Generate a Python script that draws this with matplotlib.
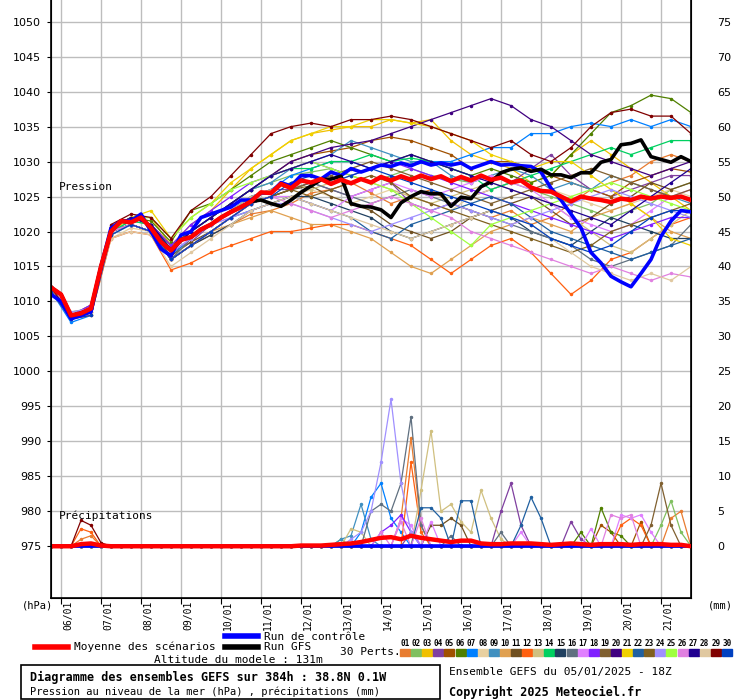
import matplotlib
matplotlib.use("Agg")
import matplotlib.pyplot as plt
from matplotlib.patches import Rectangle
from matplotlib.lines import Line2D
import matplotlib.transforms as mtransforms

# ---------------- data ----------------
day_labels = ["06/01","07/01","08/01","09/01","10/01","11/01","12/01","13/01",
              "14/01","15/01","16/01","17/01","18/01","19/01","20/01","21/01"]
pressure_ticks = [975,980,985,990,995,1000,1005,1010,1015,1020,1025,1030,1035,1040,1045,1050]
precip_ticks = [0,5,10,15,20,25,30,35,40,45,50,55,60,65,70,75]

# 6-hourly series (65 points, 05/01 18Z -> +384h)
mean_p = [1012,1011,1008,1008.3,1009,1015,1020,1021.5,1021.3,1022,1020.5,1018.5,1017.3,
          1018.8,1019.2,1020.3,1021,1022,1022.8,1023.5,1024.3,1025.6,1025.5,1026.8,1026.2,1027.3,
          1027,1027.5,1026.8,1027.4,1026.9,1027.5,1027,1027.8,1027.3,1027.9,1027.4,1028,1027.5,
          1027.9,1027.2,1027.8,1027.3,1028,1027.4,1027.7,1027,1027.3,1026.3,1025.8,1025.7,1025,
          1024.3,1025,1024.7,1024.5,1024.2,1024.7,1024.5,1025,1024.7,1025,1024.8,1025,1024.5]
control_p = [1011,1010,1007.5,1008,1008.5,1015,1020.5,1021.5,1021.5,1022.5,1020,1017.5,1016.5,
             1019.5,1020,1022,1022.5,1023,1023.5,1024.5,1024.5,1025.5,1025.5,1027,1026.5,1028,
             1028,1027.5,1028.5,1028,1029,1028.5,1029,1029.5,1029.3,1029.8,1029.4,1030,1029.5,
             1029.8,1029.5,1029.8,1029,1029.5,1030,1029.5,1029.6,1029.4,1029.3,1028.5,1026.2,1024.5,
             1022.5,1020.5,1017,1015.5,1013.6,1012.8,1012.1,1014,1016,1019.3,1021.5,1023,1022.8]
gfs_p = [1012,1011,1008,1008.3,1009,1015,1020,1021.5,1021.3,1022,1020.5,1018.5,1017.3,
         1018.8,1019.2,1020.3,1021,1022,1022.8,1023.5,1024.3,1024.5,1024,1023.6,1024.5,1025.6,
         1026.5,1027.4,1027.5,1027.9,1024,1023.6,1023.5,1023.1,1022,1024.1,1025,1025.7,1025.4,
         1025.4,1023.6,1024.9,1024.7,1026.4,1027.1,1028.4,1028.9,1029.1,1028.6,1028.9,1028.1,1028.1,
         1027.7,1028.4,1028.4,1029.9,1030.3,1032.4,1032.6,1033.1,1030.7,1030.3,1029.9,1030.7,1030]
mean_rr = [0,0,0,0.3,0.4,0.1,0,0,0,0,0,0,0,0,0,0,0,0,0,0,0,0,0,0,0,0.1,
           0.1,0.1,0.2,0.3,0.4,0.6,0.9,1.2,1.3,1.0,1.5,1.2,1.0,0.8,0.6,0.8,0.8,0.4,0.3,0.3,
           0.4,0.4,0.4,0.3,0.2,0.3,0.4,0.3,0.2,0.3,0.3,0.3,0.2,0.3,0.3,0.3,0.2,0.2,0]

# 12-hourly perturbation pressures (33 points)
m01 = [1012,1008,1008.5,1019.5,1021,1020,1016,1018,1019.5,1021,1022.5,1023,1024,1025.5,1026,1027,1025.5,1024,1025,1026,1024,1023,1022,1023,1021,1022,1024,1026,1027,1028,1030,1031,1030]
m02 = [1012,1008.5,1009,1020,1021.5,1021,1018,1020,1022,1024,1026,1027,1028,1028.5,1029,1028,1027,1028,1029,1028,1027.5,1027,1028,1027,1026,1025,1024,1023,1022,1023,1024,1026,1027]
m03 = [1012,1008,1009,1020.5,1022,1022,1018,1021,1023,1026,1029,1031,1033,1034,1034.5,1035,1035,1036,1035.5,1036,1033,1031,1030,1029,1027,1028,1031,1033,1031,1029,1027,1025,1023]
m04 = [1012,1008,1009,1020,1021,1020,1017,1018.5,1021,1023,1025,1026,1026,1027,1026,1025,1026,1027,1024,1023,1024,1025,1026,1027,1029,1031,1028,1026,1025,1026,1027,1028,1028]
m05 = [1012,1008,1009.5,1020,1022,1021,1018,1020,1022,1024,1026,1028,1030,1031,1031.5,1032,1033,1033.5,1033,1032,1031,1029,1030,1030,1029,1028,1027,1026,1025,1027,1028,1029,1028.5]
m06 = [1012,1008,1009,1020.5,1022,1021.5,1018.5,1023,1024,1026,1028,1030,1031,1032,1033,1032,1031,1030,1031,1030,1029,1028,1029,1028,1027,1028,1031,1034,1037,1038,1039.5,1039,1037]
m07 = [1011.5,1007,1008,1019.5,1021,1020,1016.5,1019,1021,1023,1025,1026,1028,1029,1030,1030,1029,1030,1029.5,1030,1030,1031,1032,1032,1034,1034,1035,1035.5,1035,1036,1035,1036,1035]
m08 = [1012,1008,1008,1019,1020.5,1020,1016,1018,1020,1022,1024,1025,1025,1026,1025,1024,1025,1026,1025,1024,1023,1025,1026,1027,1028,1026,1025,1024,1023,1024,1025,1026,1025]
m09 = [1012,1008,1009,1020,1021,1020,1017,1020,1022,1024,1026,1027,1029,1030,1031,1033,1032,1031,1030,1030,1028,1027,1028,1029,1028,1026,1027,1026,1028,1027,1026,1025,1024]
m10 = [1012,1008,1009,1020,1021,1020,1016,1018,1020,1021,1022,1023,1022,1021,1021,1020,1019,1017,1015,1014,1016,1018,1020,1021,1022,1021,1020,1022,1023,1024,1022,1020,1019]
m11 = [1012,1008,1009,1020,1021,1020,1016.5,1018.5,1020,1022,1024,1025,1026,1026.5,1025,1024,1023,1021,1020,1019,1020,1022,1023,1024,1025,1023,1021,1022,1024,1025,1027,1026,1027]
m12 = [1011.5,1007.5,1008,1019,1020,1019.5,1014.5,1015.5,1017,1018,1019,1020,1020,1020.5,1021,1021,1020,1019,1018,1016,1014,1016,1018,1019,1017,1014,1011,1013,1016,1017,1019,1021,1022]
m13 = [1012,1008,1008.5,1019.5,1021,1020,1016,1019,1021,1023,1025,1026,1027,1026,1027,1028,1027,1026,1025,1024,1025,1026,1027,1026,1025,1024,1022,1020,1018,1017,1019,1021,1023]
m14 = [1012,1008,1009,1020,1021.5,1021,1017.5,1020,1022,1024,1026,1028,1029,1029,1030,1030,1031,1030,1030.5,1030,1029,1028,1026,1027,1028,1029,1030,1031,1032,1031,1032,1033,1033]
m15 = [1012,1008,1009,1020,1021,1020,1016,1018,1019.5,1021,1023,1024,1025,1025,1024,1023,1022,1020,1019,1020,1021,1022,1023,1022,1020,1019,1018,1020,1022,1021,1020,1019,1019]
m16 = [1012,1008,1009,1020,1021,1020,1016,1019,1021,1023,1024,1025,1026,1027,1026,1025,1024,1025,1026,1025,1024,1023,1022,1021,1020,1019,1018,1016,1015,1016,1017,1018,1021]
m17 = [1012,1008,1009,1020,1021,1020,1017,1019,1021,1022,1024,1025,1025,1024,1023,1025,1026,1027,1026,1025,1026,1027,1028,1027,1026,1024,1022,1021,1020,1021,1023,1025,1026]
m18 = [1012,1008,1009.5,1020.5,1022,1021,1018,1021,1023,1025,1027,1028,1029,1030,1029,1028,1029,1030,1029,1028,1027,1026,1025,1024,1023,1022,1021,1020,1019,1020,1021,1022,1022]
m19 = [1012,1008,1009,1020,1021,1020,1016,1018,1020,1022,1024,1025,1026,1027,1028,1029,1030,1029,1028,1027,1026,1025,1024,1025,1026,1027,1028,1029,1028,1027,1026,1025,1026]
m20 = [1012,1008,1009,1020.5,1022,1021,1017,1020,1022,1024,1026,1028,1030,1031,1032,1032.5,1033,1034,1035,1036,1037,1038,1039,1038,1036,1035,1033,1031,1030,1029,1028,1029,1030]
m21 = [1012,1008,1009,1020,1022,1023,1019,1022,1024,1027,1029,1031,1033,1034,1035,1035,1036,1036,1035.5,1035,1034,1033,1031,1030,1029,1030,1030,1028,1026,1024,1022,1019,1018]
m22 = [1012,1008,1009,1020,1021,1020,1016,1018,1020,1022,1023,1024,1025,1024,1023,1022,1020,1019,1021,1022,1023,1024,1025,1024,1022,1020,1019,1018,1017,1016,1017,1018,1019]
m23 = [1012,1008,1009,1020,1021,1020,1016,1018,1020,1022,1024,1025,1026,1025,1026,1027,1028,1027,1025,1024,1023,1022,1021,1020,1019,1018,1017,1018,1020,1021,1022,1023,1024]
m24 = [1012,1008.5,1009,1020,1021,1020,1017,1019,1021,1022,1023,1024,1024,1023,1022,1021,1020,1021,1022,1023,1024,1023,1022,1021,1022,1023,1024,1025,1026,1025,1024,1023,1022]
m25 = [1012,1008,1009,1020.5,1022,1022,1019,1022,1024,1026,1027,1028,1029,1030,1029,1028,1027,1026,1024,1022,1020,1018,1021,1022,1023,1024,1025,1026,1027,1026,1025,1024,1023]
m26 = [1012,1008,1009,1020,1021,1020,1016,1018,1020,1022,1024,1025,1024,1023,1022,1023,1024,1025,1024,1023,1022,1020,1019,1018,1017,1016,1015,1014,1015,1014,1013,1014,1013.5]
m27 = [1012,1008,1009,1020.5,1022,1021,1017.5,1020,1022,1024,1026,1028,1029,1030,1031,1030,1029,1030,1031,1030,1029,1028,1027,1026,1025,1024,1023,1022,1021,1023,1025,1027,1029]
m28 = [1012,1008,1008.5,1019,1020,1019.5,1015,1017,1019,1021,1023,1024,1025,1024,1023,1022,1021,1020,1019,1020,1021,1022,1023,1022,1021,1019,1017,1015,1014,1013,1014,1013,1015]
m29 = [1012,1008,1009,1021,1022.5,1022,1019,1023,1025,1028,1031,1034,1035,1035.5,1035,1036,1036,1036.5,1036,1035,1034,1033,1032,1033,1031,1030,1032,1035,1037,1037.5,1036.5,1036.5,1034]
m30 = [1011.5,1007.5,1008,1019.5,1021,1020,1016,1018,1020,1022,1024,1025,1027,1028,1027,1028,1029,1028,1027,1026,1025,1024,1023,1022,1021,1019,1018,1017,1018,1020,1022,1023,1023]
members = [m01,m02,m03,m04,m05,m06,m07,m08,m09,m10,m11,m12,m13,m14,m15,
           m16,m17,m18,m19,m20,m21,m22,m23,m24,m25,m26,m27,m28,m29,m30]

member_colors = ["#e87c30","#80c060","#f0c000","#8040a0","#a05000","#508000","#0080ff","#e8d0a0",
                 "#4090c0","#e0a050","#705020","#ff6010","#d0c080","#00d060","#204060","#607080",
                 "#e080ff","#8020ff","#806030","#400080","#f0d000","#2060a0","#806020","#a090ff",
                 "#a0ff40","#e080e0","#200090","#e0c8a0","#800000","#0040c0"]

# 6-hourly precipitation (mm) of members: {member number: {step index: mm}}, other steps 0
precip_events = {
    1: {3: 1.0, 4: 1.5, 35: 4, 36: 15.5, 37: 3, 62: 4, 63: 5},
    2: {29: 1, 61: 3, 62: 6.5, 63: 2},
    4: {36: 2, 45: 5, 46: 9, 47: 3, 52: 3.5, 53: 1},
    5: {55: 3, 56: 2, 59: 3.5},
    6: {53: 2, 55: 5.5, 56: 2, 57: 1.5},
    7: {31: 2, 32: 7, 33: 9, 34: 4, 35: 2},
    9: {29: 1, 30: 1.5, 31: 6, 32: 1},
    11: {38: 3, 39: 3, 40: 4, 41: 3},
    12: {3: 2.5, 4: 2, 36: 12, 37: 2, 57: 3, 58: 4, 59: 3},
    13: {30: 2.5, 31: 2, 37: 8, 38: 16.5, 39: 5, 40: 6, 41: 3.5, 42: 2, 43: 8, 44: 4, 45: 1},
    16: {32: 5, 33: 6, 34: 5, 35: 9, 36: 18.5, 37: 3, 40: 1.5, 45: 2},
    17: {35: 4, 36: 3, 38: 3.5, 47: 2, 54: 2.5, 57: 4.5, 58: 4, 59: 4.5, 60: 2},
    18: {33: 2, 34: 3, 35: 4.5, 36: 2},
    19: {60: 3, 61: 9, 62: 3},
    22: {37: 5.5, 38: 5.5, 39: 4, 41: 6.5, 42: 6.5, 47: 3, 48: 7, 49: 4},
    24: {30: 1, 31: 2, 32: 5, 33: 12, 34: 21, 35: 9, 36: 2},
    26: {33: 2, 35: 3.5, 37: 4, 56: 4.5, 57: 4, 58: 4.5},
    29: {3: 3.7, 4: 3.0, 5: 0.5},
}

# ---------------- figure ----------------
plt.rcParams['font.family'] = ['DejaVu Sans']
W, H = 740, 700
fig = plt.figure(figsize=(W / 100, H / 100), dpi=100)
ax = fig.add_axes([51 / W, 1 - 598 / H, 640 / W, 598 / H])
ax.set_xlim(0, 384)
ax.set_ylim(967.6, 1053.1)

hours6 = [6 * i for i in range(len(mean_p))]
hours12 = [12 * i for i in range(len(m01))]
grid_c = "#bdbdbd"
day_hours = [6 + 24 * d for d in range(len(day_labels))]
for h in day_hours:
    ax.axvline(h, color=grid_c, lw=1, zorder=0)
for p in pressure_ticks:
    ax.axhline(p, color=grid_c, lw=1, zorder=0)

for k, (m, c) in enumerate(zip(members, member_colors)):
    ax.plot(hours12, m, color=c, lw=0.9, marker='.', ms=3, zorder=2)
    ev = precip_events.get(k + 1, {})
    rr = [ev.get(i, 0.0) for i in range(len(hours6))]
    ax.plot(hours6, [975 + v for v in rr], color=c, lw=0.9, marker='.', ms=3, zorder=2)

ax.plot(hours6, control_p, color="#0000ff", lw=2.6, zorder=4)
ax.plot(hours6, [975] * len(hours6), color="#0000ff", lw=2.6, zorder=4)
ax.plot(hours6, gfs_p, color="black", lw=2.6, zorder=4)
ax.plot(hours6, mean_p, color="#ff0000", lw=3.2, zorder=5)
ax.plot(hours6, [975 + v for v in mean_rr], color="#ff0000", lw=3.2, zorder=5)

ax.set_xticks(day_hours)
ax.set_xticklabels([])
ax.tick_params(axis='x', length=4, direction='out')
ax.set_yticks(pressure_ticks)
ax.set_yticklabels([str(p) for p in pressure_ticks], fontsize=8)
ax.tick_params(axis='y', length=3, pad=4)
ax.spines['top'].set_visible(False)
for s in ['left', 'right', 'bottom']:
    ax.spines[s].set_linewidth(1.2)
ax2 = ax.twinx()
ax2.set_ylim(967.6 - 975, 1053.1 - 975)
ax2.set_yticks(precip_ticks)
ax2.set_yticklabels([str(v) for v in precip_ticks], fontsize=8)
ax2.tick_params(axis='y', length=0, pad=19)
ax2.spines['top'].set_visible(False)

mono = 'DejaVu Sans Mono'
trans = mtransforms.blended_transform_factory(ax.transData, ax.transAxes)
for h, lab in zip(day_hours, day_labels):
    ax.text(h + 4.2, -0.005, lab, rotation=90, ha='center', va='top',
            fontsize=7, family=mono, transform=trans)

ax.text(5, 1025.6, "Pression", fontsize=8, family=mono, va='bottom')
ax.text(5, 978.6, "Précipitations", fontsize=8, family=mono, va='bottom')

def ft(x, y, s, **kw):
    fig.text(x / W, 1 - y / H, s, family=mono, va='center', **kw)

ft(22, 606, "(hPa)", fontsize=7.5)
ft(708, 606, "(mm)", fontsize=7.5)
fig.add_artist(Line2D([35 / W, 68 / W], [1 - 647 / H] * 2, color="#ff0000", lw=4))
ft(74, 647, "Moyenne des scénarios", fontsize=8)
fig.add_artist(Line2D([225 / W, 258 / W], [1 - 636 / H] * 2, color="#0000ff", lw=4))
ft(264, 637, "Run de contrôle", fontsize=8)
fig.add_artist(Line2D([225 / W, 258 / W], [1 - 647 / H] * 2, color="black", lw=4))
ft(264, 647, "Run GFS", fontsize=8)
ft(340, 652, "30 Perts.", fontsize=8)
for k, c in enumerate(member_colors):
    x0 = 400 + k * 11.1
    ft(x0 + 5, 643, "%02d" % (k + 1), fontsize=5.5, ha='center', weight='bold')
    fig.add_artist(Rectangle((x0 / W, 1 - 656 / H), 10 / W, 7 / H, color=c,
                             transform=fig.transFigure))
ft(238, 660, "Altitude du modele : 131m", fontsize=8, ha='center')
fig.add_artist(Rectangle((21 / W, 1 - 699 / H), 419 / W, 34 / H, fill=False,
                         edgecolor='black', lw=1.2, transform=fig.transFigure))
ft(30, 677, "Diagramme des ensembles GEFS sur 384h : 38.8N 0.1W", fontsize=8.5, weight='bold')
ft(30, 692, "Pression au niveau de la mer (hPa) , précipitations (mm)", fontsize=7.5)
ft(449, 672, "Ensemble GEFS du 05/01/2025 - 18Z", fontsize=8)
ft(449, 692, "Copyright 2025 Meteociel.fr", fontsize=8.5, weight='bold')

fig.savefig("out.png", dpi=100)
